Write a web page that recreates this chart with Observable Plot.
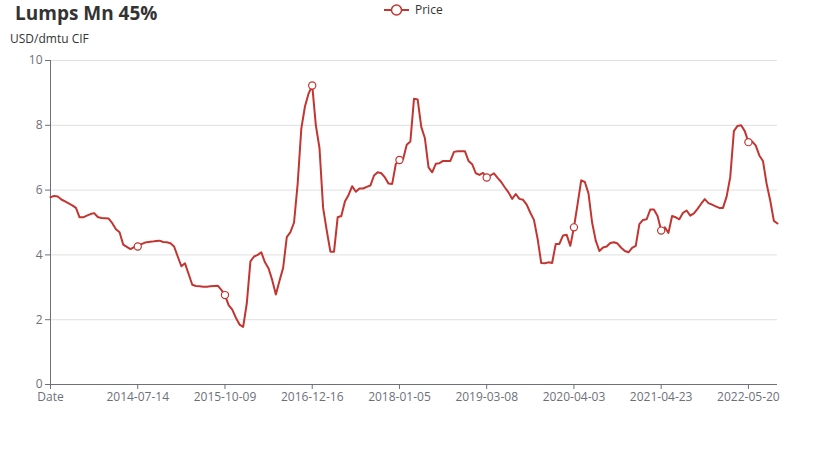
<!DOCTYPE html>
<html>
<head>
<meta charset="utf-8">
<script src="https://cdn.jsdelivr.net/npm/d3@7"></script>
<script src="https://cdn.jsdelivr.net/npm/@observablehq/plot@0.6"></script>
<style>
  html, body { margin: 0; padding: 0; background: #fff; }
  #wrap { position: relative; width: 826px; height: 455px; font-family: "Open Sans", "Noto Sans", sans-serif; }
  #title { position: absolute; left: 15px; top: 0px; font-size: 19px; font-weight: 700; color: #333; line-height: normal; white-space: nowrap; }
  #yname { position: absolute; left: 10px; top: 30px; font-size: 12px; color: #333; line-height: normal; white-space: nowrap; }
  #legend { position: absolute; left: 384px; top: 1px; font-size: 12px; color: #333; line-height: normal; display: flex; align-items: center; white-space: nowrap; }
  #legend svg { margin-right: 6px; }
  #chart { position: absolute; left: 0; top: 0; }
</style>
</head>
<body>
<div id="wrap">
  <div id="chart"></div>
  <div id="title"></div>
  <div id="yname"></div>
  <div id="legend"></div>
</div>
<script>
// ---- data ----
const titleText = "Lumps Mn 45%";
const yAxisName = "USD/dmtu CIF";
const seriesName = "Price";
const lineColor = "#c23531";

// category labels shown on the x axis (one every labelStep samples)
const xLabels = ["Date", "2014-07-14", "2015-10-09", "2016-12-16", "2018-01-05",
                 "2019-03-08", "2020-04-03", "2021-04-23", "2022-05-20"];
const labelStep = 24;

// price samples, evenly spaced along the category axis
const price = [
  5.78, 5.82, 5.80, 5.71, 5.65, 5.59, 5.53, 5.45, 5.16, 5.16,
  5.21, 5.26, 5.29, 5.17, 5.14, 5.13, 5.12, 4.98, 4.79, 4.70,
  4.32, 4.25, 4.18, 4.24, 4.26, 4.33, 4.38, 4.40, 4.41, 4.43,
  4.44, 4.40, 4.39, 4.36, 4.26, 3.95, 3.65, 3.74, 3.41, 3.08,
  3.04, 3.03, 3.02, 3.02, 3.03, 3.04, 3.05, 2.92, 2.76, 2.45,
  2.31, 2.06, 1.85, 1.78, 2.50, 3.80, 3.95, 4.00, 4.08, 3.77,
  3.58, 3.22, 2.78, 3.20, 3.60, 4.55, 4.70, 5.00, 6.20, 7.90,
  8.58, 8.98, 9.23, 8.00, 7.30, 5.45, 4.75, 4.10, 4.10, 5.16,
  5.20, 5.65, 5.85, 6.12, 5.95, 6.05, 6.05, 6.10, 6.14, 6.45,
  6.55, 6.52, 6.39, 6.20, 6.19, 6.81, 6.93, 6.95, 7.40, 7.50,
  8.82, 8.80, 7.95, 7.60, 6.70, 6.55, 6.81, 6.83, 6.90, 6.90,
  6.90, 7.18, 7.20, 7.20, 7.20, 6.90, 6.80, 6.52, 6.47, 6.53,
  6.39, 6.45, 6.52, 6.38, 6.25, 6.08, 5.93, 5.73, 5.88, 5.73,
  5.70, 5.55, 5.30, 5.08, 4.50, 3.75, 3.74, 3.77, 3.75, 4.34,
  4.34, 4.60, 4.62, 4.28, 4.85, 5.57, 6.30, 6.25, 5.90, 5.00,
  4.44, 4.12, 4.23, 4.26, 4.37, 4.39, 4.35, 4.22, 4.12, 4.08,
  4.22, 4.28, 4.95, 5.08, 5.10, 5.40, 5.40, 5.20, 4.75, 4.85,
  4.68, 5.20, 5.16, 5.10, 5.30, 5.37, 5.21, 5.28, 5.42, 5.58,
  5.72, 5.60, 5.55, 5.50, 5.45, 5.45, 5.80, 6.40, 7.82, 7.98,
  8.00, 7.82, 7.48, 7.50, 7.38, 7.07, 6.90, 6.20, 5.68, 5.05,
  4.97
];

const yTicks = [0, 2, 4, 6, 8, 10];

// ---- build ----
const data = price.map((v, i) => ({i, v}));
const tickIdx = xLabels.map((_, k) => k * labelStep);
const markers = data.filter(d => d.i > 0 && d.i % labelStep === 0);

document.getElementById("title").textContent = titleText;
document.getElementById("yname").textContent = yAxisName;
document.getElementById("legend").innerHTML =
  `<svg width="25" height="14"><line x1="0" x2="25" y1="7" y2="7" stroke="${lineColor}" stroke-width="2"/>` +
  `<circle cx="12.5" cy="7" r="5" fill="#fff" stroke="${lineColor}" stroke-width="1.5"/></svg><span>${seriesName}</span>`;

const chart = Plot.plot({
  width: 826,
  height: 455,
  marginTop: 60,
  marginBottom: 71,
  marginLeft: 50,
  marginRight: 49,
  style: {color: "#6e7079", fontSize: "12px", fontFamily: "'Open Sans', 'Noto Sans', sans-serif", background: "transparent"},
  x: {domain: [0, price.length - 1]},
  y: {domain: [0, 10]},
  marks: [
    Plot.gridY(yTicks.filter(t => t > 0), {stroke: "#e0e0e0", strokeOpacity: 1}),
    Plot.axisY(yTicks, {tickSize: 5, tickPadding: 3, label: null, stroke: "#6e7079"}),
    Plot.axisX(tickIdx, {tickSize: 5, tickPadding: 3, label: null, stroke: "#6e7079",
                         tickFormat: i => xLabels[Math.round(i / labelStep)]}),
    Plot.ruleY([0], {stroke: "#6e7079"}),
    Plot.ruleX([0], {stroke: "#6e7079"}),
    Plot.line(data, {x: "i", y: "v", stroke: lineColor, strokeWidth: 2, strokeLinejoin: "round"}),
    Plot.dot(markers, {x: "i", y: "v", r: 3.6, fill: "#fff", stroke: lineColor, strokeWidth: 1.2})
  ]
});
document.getElementById("chart").appendChild(chart);
</script>
</body>
</html>
